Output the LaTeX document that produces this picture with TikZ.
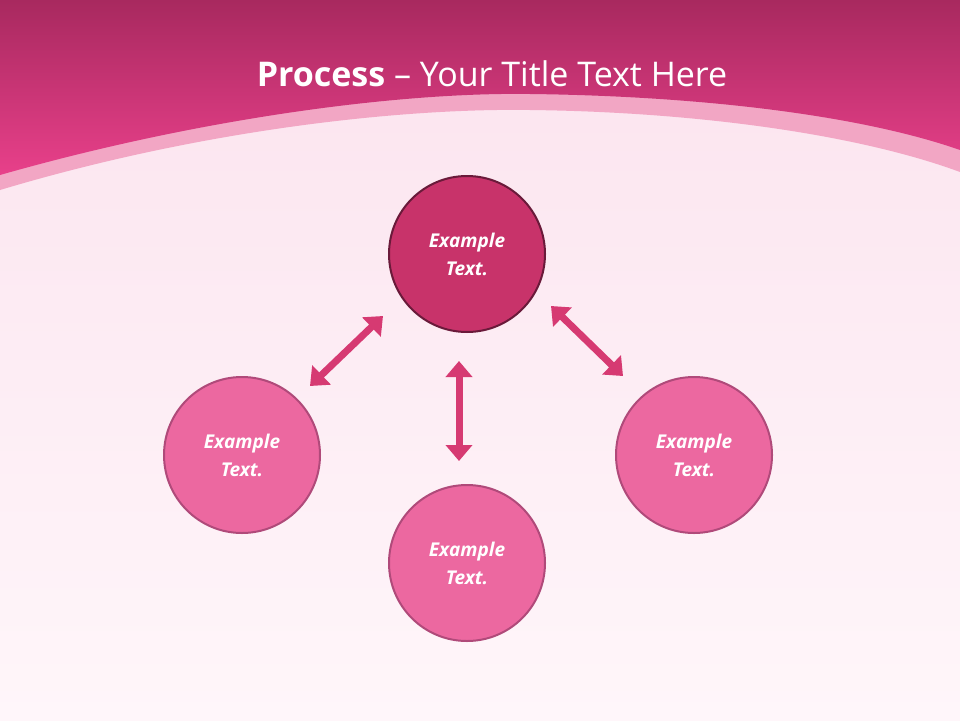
\documentclass[tikz,border=0pt]{standalone}
\usepackage{fontspec}
\setmainfont{Open Sans}
\usetikzlibrary{arrows.meta}
\definecolor{hdtop}{HTML}{A8295F}
\definecolor{hdbot}{HTML}{E8408A}
\definecolor{band}{HTML}{F2A6C4}
\definecolor{bgA}{HTML}{FBE3EE}
\definecolor{bgB}{HTML}{FFF6FA}
\definecolor{cdark}{HTML}{C8336A}
\definecolor{cdarkb}{HTML}{6A1A3A}
\definecolor{clight}{HTML}{EC68A0}
\definecolor{clightb}{HTML}{B04A7A}
\definecolor{arr}{HTML}{D63A72}
\tikzset{
 topc/.style={circle,minimum size=156pt,fill=cdark,draw=cdarkb,line width=2pt,text=white,font=\bfseries\itshape\fontsize{19}{28}\selectfont,align=center},
 subc/.style={topc,fill=clight,draw=clightb},
 dbl/.style={arr,line width=7pt,{Triangle[length=16pt,width=26pt]}-{Triangle[length=16pt,width=26pt]}}
}
\begin{document}
\begin{tikzpicture}[x=1pt,y=-1pt]
\useasboundingbox (0,0) rectangle (960,720);
\shade[top color=bgA,bottom color=bgB] (0,0) rectangle (960,720);
\fill[band] (0,190) .. controls (200,130) and (400,108) .. (530,110) .. controls (700,112) and (860,135) .. (960,172) -- (960,0) -- (0,0) -- cycle;
\shade[top color=hdtop,bottom color=hdbot] (0,175) .. controls (200,118) and (400,92) .. (530,94) .. controls (700,96) and (860,115) .. (960,150) -- (960,0) -- (0,0) -- cycle;
\node[text=white,font=\fontsize{34}{40}\selectfont] (title) at (492,74) {\textbf{Process} – Your Title Text Here};
\node[topc] (t) at (467,254) {Example\\Text.};
\node[subc] (l) at (242,455) {Example\\Text.};
\node[subc] (b) at (467,563) {Example\\Text.};
\node[subc] (r) at (694,455) {Example\\Text.};
\coordinate (a1) at (310,386); \coordinate (a2) at (383,316);
\coordinate (b1) at (459,361); \coordinate (b2) at (459,461);
\coordinate (c1) at (551,306); \coordinate (c2) at (623,376);
\draw[dbl] (a1) -- (a2);
\draw[dbl] (b1) -- (b2);
\draw[dbl] (c1) -- (c2);
\end{tikzpicture}
\end{document}
